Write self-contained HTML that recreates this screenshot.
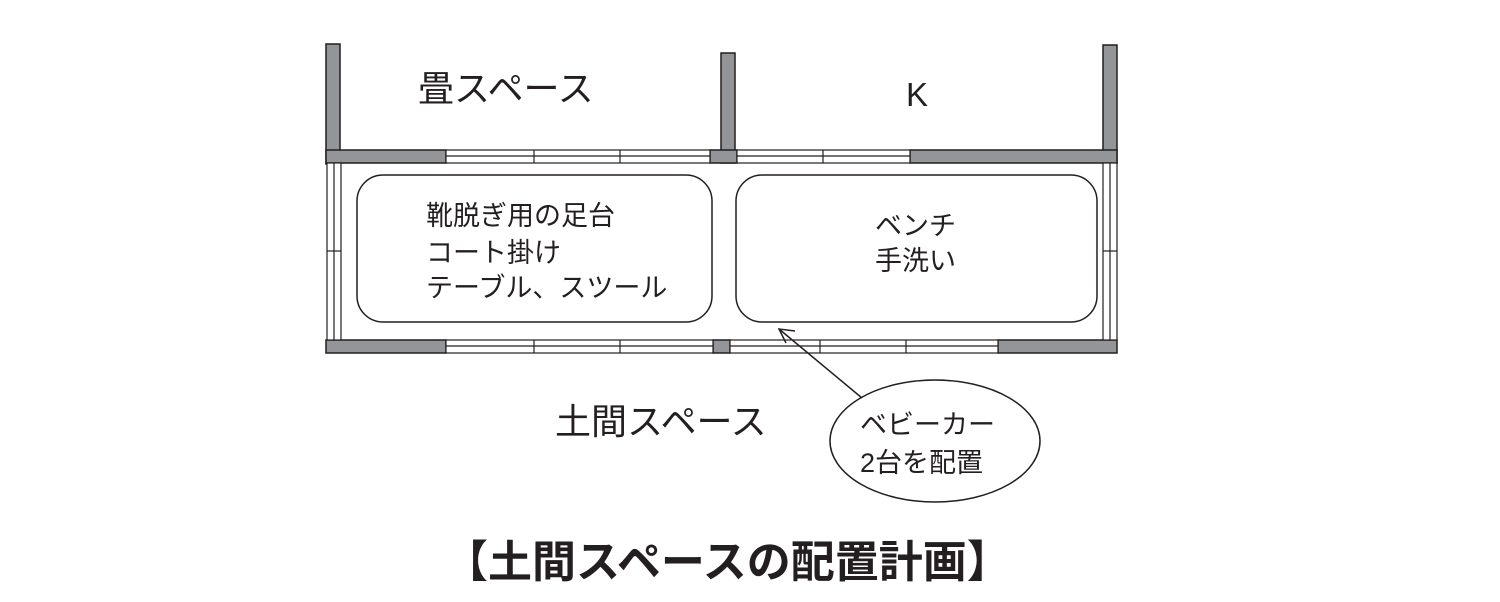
<!DOCTYPE html>
<html><head><meta charset="utf-8"><style>
html,body{margin:0;padding:0;background:#fff;}
svg{display:block;}
text{font-family:"Liberation Sans","Noto Sans CJK JP",sans-serif;fill:#231f20;}
</style></head><body>
<svg width="1500" height="602" viewBox="0 0 1500 602" xmlns="http://www.w3.org/2000/svg">
<g fill="#939598" stroke="#231f20" stroke-width="1.5">
<rect x="326" y="44" width="14" height="120"/>
<rect x="721" y="53" width="14" height="110"/>
<rect x="1103" y="45" width="14" height="118"/>
<rect x="326" y="150" width="120" height="13"/>
<rect x="710" y="150" width="27" height="13"/>
<rect x="910" y="150" width="207" height="13"/>
<rect x="326" y="340" width="120" height="13"/>
<rect x="713" y="340" width="17" height="13"/>
<rect x="998" y="340" width="119" height="13"/>
</g>
<g fill="#fff" stroke="#231f20" stroke-width="1.2">
<rect x="446" y="150" width="264" height="13"/>
<line x1="446" y1="156" x2="710" y2="156"/>
<line x1="534" y1="150" x2="534" y2="163"/>
<line x1="620" y1="150" x2="620" y2="163"/>
<rect x="737" y="150" width="173" height="13"/>
<line x1="737" y1="156" x2="910" y2="156"/>
<line x1="823" y1="150" x2="823" y2="163"/>
<rect x="446" y="340" width="267" height="13"/>
<line x1="446" y1="346" x2="713" y2="346"/>
<line x1="534" y1="340" x2="534" y2="353"/>
<line x1="620" y1="340" x2="620" y2="353"/>
<rect x="730" y="340" width="268" height="13"/>
<line x1="730" y1="346" x2="998" y2="346"/>
<line x1="820" y1="340" x2="820" y2="353"/>
<line x1="906" y1="340" x2="906" y2="353"/>
<rect x="327" y="163" width="14" height="177"/>
<line x1="334" y1="163" x2="334" y2="340"/>
<line x1="327" y1="251" x2="341" y2="251"/>
<rect x="1103" y="163" width="14" height="177"/>
<line x1="1110" y1="163" x2="1110" y2="340"/>
<line x1="1103" y1="251" x2="1117" y2="251"/>
</g>
<g fill="none" stroke="#231f20" stroke-width="1.5">
<rect x="357" y="175" width="355" height="147" rx="26"/>
<rect x="736" y="175" width="361" height="147" rx="26"/>
<ellipse cx="935" cy="441" rx="105" ry="61"/>
<line x1="862" y1="398" x2="779" y2="329"/>
<polyline points="795,331 779,329 786,343"/>
</g>
<text x="418" y="101" font-size="36">畳スペース</text>
<text x="906" y="106" font-size="33">K</text>
<g font-size="27">
<text x="426" y="225">靴脱ぎ用の足台</text>
<text x="426" y="262">コート掛け</text>
<text x="426" y="297">テーブル、スツール</text>
<text x="875" y="235">ベンチ</text>
<text x="875" y="270">手洗い</text>
<text x="860" y="434">ベビーカー</text>
<text x="860" y="472">2台を配置</text>
</g>
<text x="555" y="434" font-size="36">土間スペース</text>
<text x="444" y="577" font-size="44" font-weight="bold">【土間スペースの配置計画】</text>
</svg>
</body></html>
